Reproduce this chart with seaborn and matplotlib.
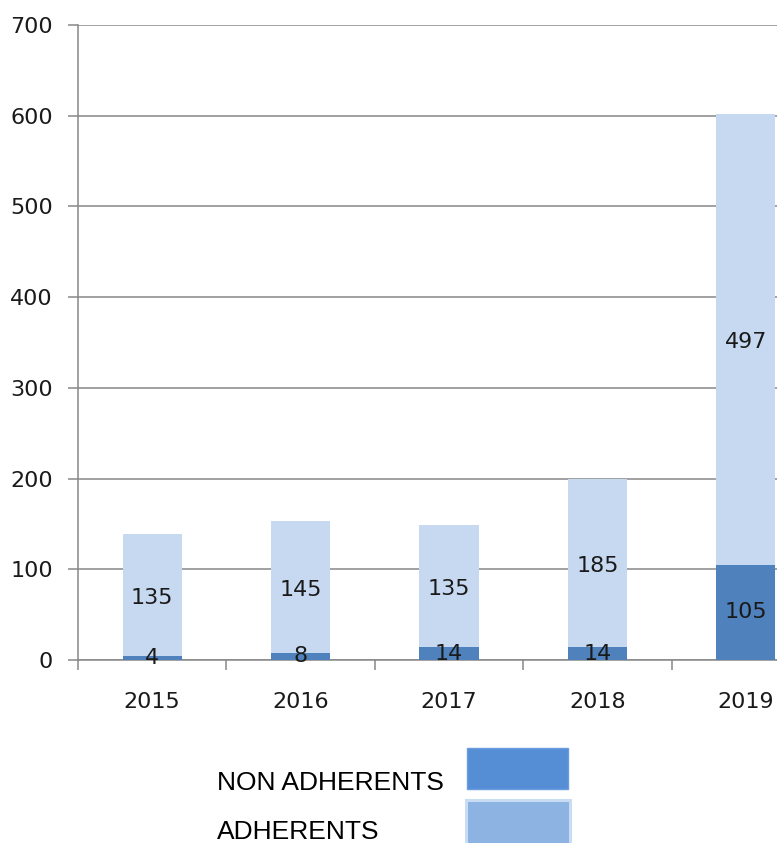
import matplotlib
matplotlib.use('Agg')
import matplotlib.pyplot as plt
from matplotlib.patches import Rectangle
import seaborn as sns
import pandas as pd

# chart data
years = ['2015', '2016', '2017', '2018', '2019']
non_adherents = [4, 8, 14, 14, 105]
adherents = [135, 145, 135, 185, 497]
legend_labels = ['NON ADHERENTS', 'ADHERENTS']

dark_blue = '#4F81BD'
light_blue = '#C6D9F1'
grid_grey = '#888888'

df = pd.DataFrame({'Year': years, 'Non': non_adherents, 'Adh': adherents})
df['Total'] = df['Non'] + df['Adh']

sns.set_style('white')
plt.rcParams['font.family'] = ['DejaVu Sans']

fig = plt.figure(figsize=(7.77, 8.43), dpi=100)
# axes runs past the right edge of the figure, like the cropped original
ax = fig.add_axes([78 / 777, 183 / 843, 742 / 777, 635 / 843])

# stacked bars: total in light blue, non adherents drawn over it in dark blue
sns.barplot(data=df, x='Year', y='Total', color=light_blue, saturation=1,
            width=0.4, linewidth=0, ax=ax, zorder=2)
sns.barplot(data=df, x='Year', y='Non', color=dark_blue, saturation=1,
            width=0.4, linewidth=0, ax=ax, zorder=3)

# segment labels (sit a touch below the segment centre, as in the original)
for i, row in df.iterrows():
    ax.text(i, row['Non'] / 2, str(row['Non']), ha='center', va='center',
            fontsize=16, color='#1a1a1a', zorder=5)
    ax.text(i, row['Non'] + row['Adh'] / 2 - 3, str(row['Adh']), ha='center',
            va='center', fontsize=16, color='#1a1a1a', zorder=5)

ax.set_xlim(-0.5, len(years) - 0.5)
ax.set_ylim(0, 700)
ax.set_yticks(range(0, 701, 100))
ax.set_xlabel('')
ax.set_ylabel('')

ax.yaxis.grid(True, color=grid_grey, linewidth=1.1)
ax.set_axisbelow(True)
for side in ['top', 'right']:
    ax.spines[side].set_visible(False)
for side in ['left', 'bottom']:
    ax.spines[side].set_color(grid_grey)
    ax.spines[side].set_linewidth(1.1)

ax.tick_params(axis='y', length=7, width=1.1, color=grid_grey, pad=11,
               labelsize=16, labelcolor='#1a1a1a', left=True)
ax.tick_params(axis='x', which='major', length=0, pad=23,
               labelsize=16, labelcolor='#1a1a1a')
ax.set_xticks([x - 0.5 for x in range(len(years))], minor=True)
ax.tick_params(axis='x', which='minor', length=7, width=1.1, color=grid_grey,
               bottom=True)

# legend drawn by hand: label on the left, swatch on the right
fig.text(217 / 777, 53 / 843, legend_labels[0], fontsize=19,
         family='Liberation Sans', va='baseline', ha='left', color='black')
fig.text(217 / 777, 4 / 843, legend_labels[1], fontsize=19,
         family='Liberation Sans', va='baseline', ha='left', color='black')
fig.patches.append(Rectangle((467 / 777, 54 / 843), 101 / 777, 41 / 843,
                             transform=fig.transFigure, facecolor='#558ED5',
                             edgecolor='#6A9DE0', linewidth=1, figure=fig))
fig.patches.append(Rectangle((465.5 / 777, -3 / 843), 104 / 777, 46 / 843,
                             transform=fig.transFigure, facecolor='#8DB3E2',
                             edgecolor='#C9DCF3', linewidth=2.2, figure=fig))

fig.savefig('out.png', dpi=100)
